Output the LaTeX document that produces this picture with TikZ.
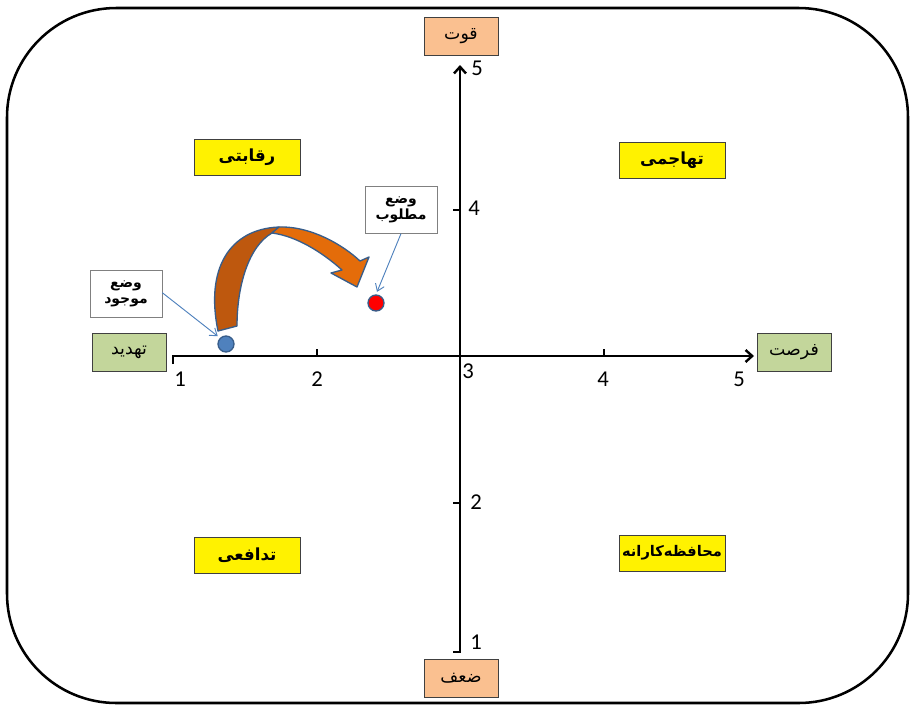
\documentclass[tikz,border=0pt]{standalone}
\usepackage{fontspec}
\setmainfont{Carlito}
\newfontfamily\farsi[Script=Arabic]{DejaVu Sans}
\TeXXeTstate=1
\usetikzlibrary{positioning}
\usetikzlibrary{arrows.meta}
\definecolor{peach}{RGB}{250,192,144}
\definecolor{olive}{RGB}{195,214,155}
\definecolor{steel}{RGB}{79,129,189}
\definecolor{steeldark}{RGB}{56,93,138}
\definecolor{arrdark}{RGB}{190,88,14}
\definecolor{arrlight}{RGB}{228,108,10}
\newcommand{\fa}[1]{{\farsi\beginR #1\endR}}

\begin{document}
\begin{tikzpicture}[
    x=0.75pt, y=-0.75pt,
    % node styles
    axisbox/.style = {
      draw=black!75,
      minimum width=55.5pt,
      minimum height=28.5pt,
      inner sep=0pt,
      font=\fontsize{13}{15}\selectfont
    },
    quad/.style = {
      draw=black!75,
      fill=yellow,
      minimum width=79.5pt,
      minimum height=27pt,
      inner sep=0pt,
      font=\fontsize{12.5}{14}\selectfont\bfseries
    },
    tag/.style = {
      draw=black!50,
      fill=white,
      minimum width=54pt,
      minimum height=35pt,
      inner sep=0pt,
      align=center,
      font=\fontsize{10.5}{12.5}\selectfont\bfseries
    },
    num/.style = {inner sep=0pt, font=\fontsize{17}{19}\selectfont},
    dot/.style = {circle, draw=steeldark, line width=1pt, minimum size=12pt, inner sep=0pt},
    % arrow styles
    axis/.style = {-{Straight Barb[length=5pt,width=9pt]}, line width=1.8pt},
    tick/.style = {line width=1.5pt},
    pointer/.style = {-{Straight Barb[length=5pt,width=7pt]}, line width=0.7pt, draw=steel, shorten >=2pt},
    bigarr/.style = {draw=steeldark, line width=1pt, line join=round}
  ]
  \useasboundingbox (0,0) rectangle (910,704);

  % --- Frame
  \draw[line width=1.9pt, rounded corners=82pt] (7,8) rectangle (908,703);

  % --- Axes
  \coordinate (xstart) at (173,356);
  \coordinate (xend) at (754,356);
  \coordinate (ystart) at (460,652);
  \coordinate (yend) at (460,65);
  \draw[axis] ([yshift=-6pt]xstart) -- (xstart) -- (xend);
  \draw[axis] ([xshift=-5pt]ystart) -- (ystart) -- (yend);
  \draw[tick] (317,349) -- (317,356);
  \draw[tick] (604,349) -- (604,356);
  \draw[tick] (453,210) -- (460,210);
  \draw[tick] (453,503) -- (460,503);

  % --- Numbers
  \node[num] (x1) at (180,379) {1};
  \node[num] (x2) at (317,379) {2};
  \node[num] (x3) at (468,371) {3};
  \node[num] (x4) at (603,379) {4};
  \node[num] (x5) at (739,379) {5};
  \node[num] (y5) at (477,68) {5};
  \node[num] (y4) at (474,208) {4};
  \node[num] (y2) at (476,502) {2};
  \node[num] (y1) at (476,642) {1};

  % --- Axis labels
  \node[axisbox, fill=peach] (strong) at (461,36) {\fa{قوت}};
  \node[axisbox, fill=peach] (weak) at (461,678) {\fa{ضعف}};
  \node[axisbox, fill=olive] (threat) at (129,352) {\fa{تهدید}};
  \node[axisbox, fill=olive] (chance) at (794,352) {\fa{فرصت}};

  % --- Quadrants
  \node[quad] (rival) at (247,157) {\fa{رقابتی}};
  \node[quad] (attack) at (672,160) {\fa{تهاجمی}};
  \node[quad] (defend) at (247,555) {\fa{تدافعی}};
  \node[quad, font=\fontsize{11}{13}\selectfont\bfseries] (guard) at (672,553) {\fa{محافظه‌کارانه}};

  % --- Current and desired state
  \node[tag] (now) at (126,294) {\fa{وضع}\\\fa{موجود}};
  \node[tag] (goal) at (401,210) {\fa{وضع}\\\fa{مطلوب}};
  \node[dot, fill=steel] (nowdot) at (226,344) {};
  \node[dot, fill=red] (goaldot) at (376,303) {};

  \draw[pointer] (now.east) ++(0,1pt) -- (nowdot.north west);
  \draw[pointer] (goal.south) -- (goaldot.north);

  % --- Curved arrow
  \draw[bigarr, fill=arrdark]
    (218,331) .. controls (205,268) and (230,229) .. (279,227)
    -- (272,233) .. controls (249,246) and (237,285) .. (237,326) -- cycle;
  \draw[bigarr, fill=arrlight]
    (279,227) .. controls (311,226) and (343,245) .. (360,261)
    -- (369,257) -- (357,287) -- (331,273) -- (342,270)
    .. controls (322,252) and (296,236) .. (272,233) -- cycle;

\end{tikzpicture}
\end{document}
